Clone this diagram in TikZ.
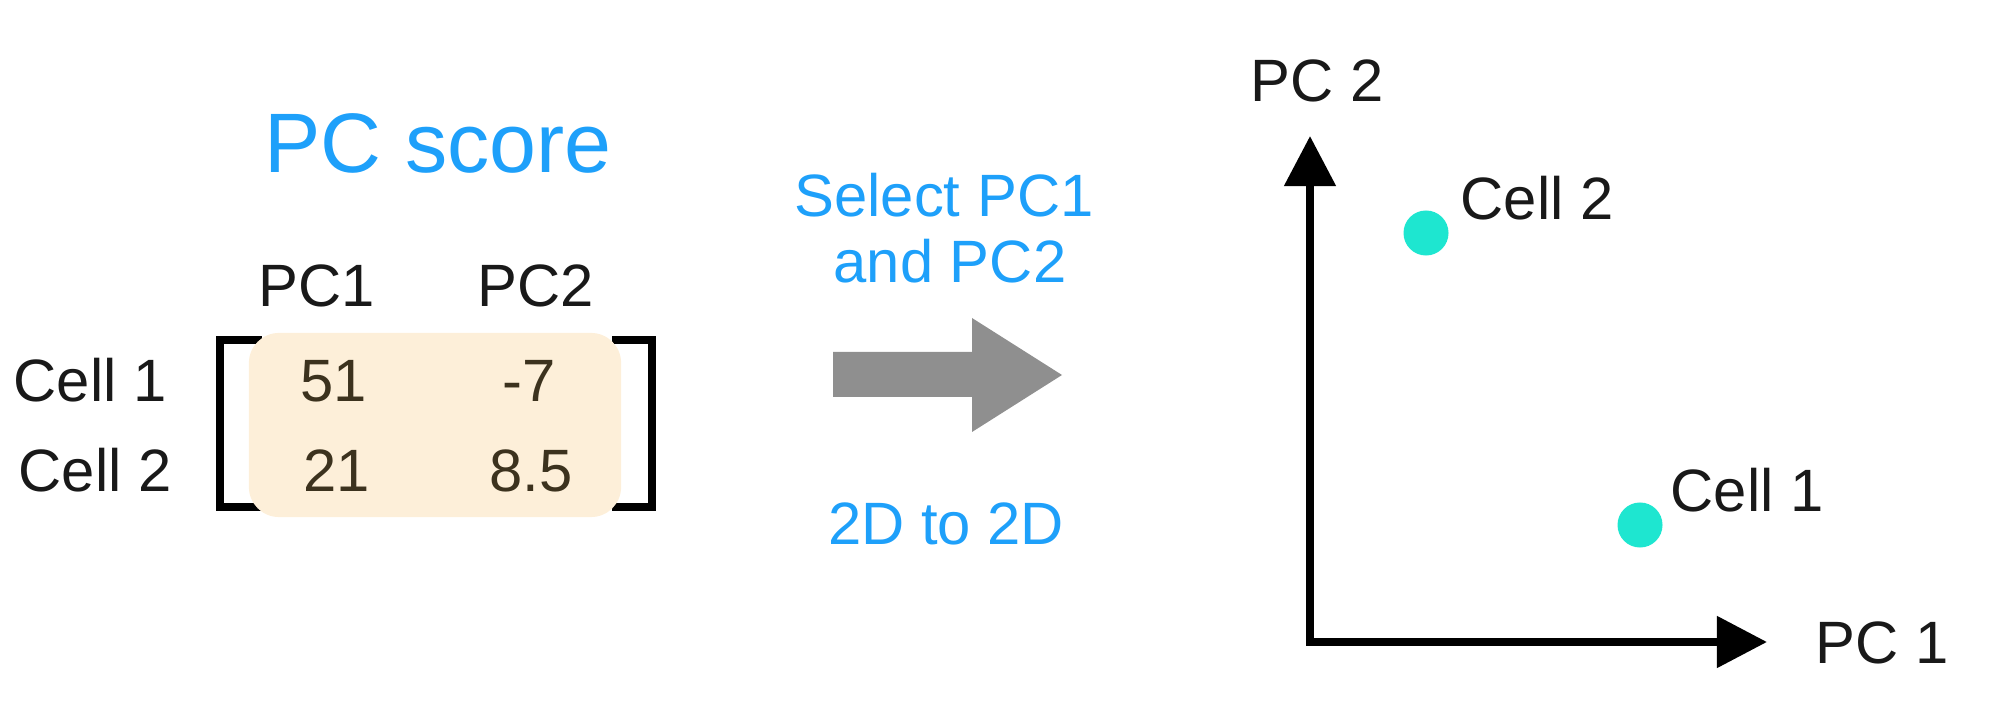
\documentclass[tikz,border=0pt]{standalone}
\usepackage{fontspec}
\setmainfont{Liberation Sans}
\usetikzlibrary{arrows.meta}
\definecolor{pcblue}{RGB}{30,160,250}
\definecolor{peach}{RGB}{253,239,217}
\definecolor{valbrown}{RGB}{60,50,30}
\definecolor{inkblack}{RGB}{25,25,25}
\definecolor{dotcyan}{RGB}{30,230,208}
\definecolor{arrowgray}{RGB}{143,143,143}
\newcommand{\pcfont}{\fontsize{17}{19}\selectfont}
\newcommand{\bigpcfont}{\fontsize{24}{28}\selectfont}

\begin{document}
\begin{tikzpicture}
  [
    x                 = 0.01cm,
    y                 = -0.01cm,
    every node/.style = {font=\pcfont, inner sep=0pt, anchor=base, text=inkblack},
    blue text/.style  = {text=pcblue},
    value/.style      = {text=valbrown},
    score box/.style  = {fill=peach, rounded corners=0.3cm, anchor=center,
                         minimum width=3.72cm, minimum height=1.84cm},
    bracket/.style    = {draw=black, line width=0.08cm},
    axis/.style       = {draw=black, line width=0.08cm,
                         {Triangle[length=0.5cm,width=0.5cm]}-{Triangle[length=0.5cm,width=0.5cm]}},
    cell dot/.style   = {circle, fill=dotcyan, minimum size=0.45cm, anchor=center}
  ]
  \useasboundingbox (0,0) rectangle (2000,716);

  \node[blue text, font=\bigpcfont] (title) at (438,173) {PC score};
  \node (h1) at (317,307) {PC1};
  \node (h2) at (536,307) {PC2};
  \node[anchor=base west] (r1) at (13,402) {Cell 1};
  \node[anchor=base west] (r2) at (18,492) {Cell 2};

  \draw[bracket] (262,340) -- (220,340) -- (220,507) -- (262,507);
  \draw[bracket] (612,340) -- (652,340) -- (652,507) -- (612,507);
  \node[score box] (mat) at (435,425) {};

  \node[value] (v11) at (334,402) {51};
  \node[value] (v12) at (529,402) {-7};
  \node[value] (v21) at (337,492) {21};
  \node[value] (v22) at (531,492) {8.5};

  \node[blue text] (sel1) at (944,217) {Select PC1};
  \node[blue text] (sel2) at (950,283) {and PC2};
  \node[blue text] (dim) at (946,545) {2D to 2D};
  \fill[arrowgray] (833,352) -- (972,352) -- (972,318) -- (1062,375)
    -- (972,432) -- (972,397) -- (833,397) -- cycle;

  \coordinate (org) at (1310,642);
  \coordinate (ytip) at (1310,136);
  \coordinate (xtip) at (1767,642);
  \draw[axis] (ytip) -- (org) -- (xtip);
  \node[anchor=base west] (ylab) at (1250,102) {PC 2};
  \node[anchor=base west] (xlab) at (1815,663) {PC 1};

  \node[cell dot] (c2) at (1426,233) {};
  \node[cell dot] (c1) at (1640,525) {};
  \node[anchor=base west] (c2lab) at (1460,220) {Cell 2};
  \node[anchor=base west] (c1lab) at (1670,512) {Cell 1};
\end{tikzpicture}
\end{document}
